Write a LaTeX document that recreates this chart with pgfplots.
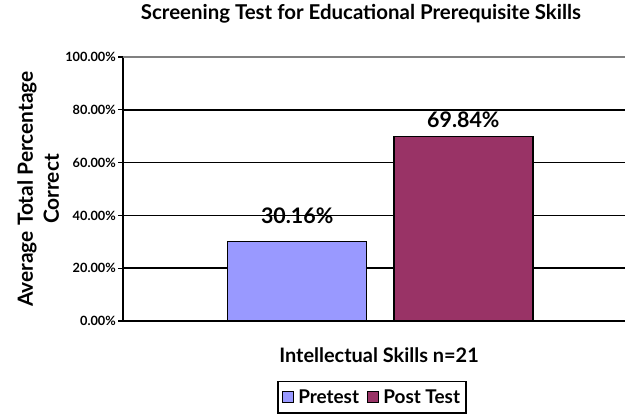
\documentclass[border=0pt]{standalone}
\usepackage{fontspec}
\setmainfont{Lato}
\usepackage{pgfplots}
\pgfplotsset{compat=1.18}
\definecolor{pre}{HTML}{9999FF}
\definecolor{post}{HTML}{993366}
\definecolor{gridgray}{HTML}{808080}
\begin{document}
\begin{tikzpicture}[x=1bp,y=1bp]
\useasboundingbox (0,0) rectangle (625,413);
\begin{axis}[
  at={(123bp,92bp)}, anchor=south west,
  scale only axis, width=502bp, height=264bp,
  xmin=0, xmax=1, ymin=0, ymax=100,
  axis x line*=bottom, axis y line*=left,
  axis line style={black, line width=1.5bp, -},
  xtick=\empty,
  ytick={0,20,40,60,80}, extra y ticks={100},
  extra y tick style={grid style={gridgray, line width=1.5bp}},
  ymajorgrids, grid style={black, line width=1.5bp},
  tick align=outside, major tick length=5bp, tick style={black, line width=1.3bp},
  /pgf/number format/assume math mode=true,
  yticklabel={\pgfmathprintnumber[fixed,fixed zerofill,precision=2]{\tick}\%},
  yticklabel style={font=\bfseries\fontsize{12.8}{14}\selectfont, inner sep=1bp, xshift=-1bp},
  ybar, bar width=0.277, bar shift=0pt,
  clip=false,
  title={Screening Test for Educational Prerequisite Skills},
  title style={font=\bfseries\fontsize{20.5}{24}\selectfont, at={(axis description cs:0.474,1.14)}, anchor=center},
  xlabel={Intellectual Skills n=21},
  xlabel style={font=\bfseries\fontsize{20}{24}\selectfont, at={(axis description cs:0.51,-0.129)}, anchor=center},
  ylabel={Average Total Percentage\\Correct},
  ylabel style={font=\bfseries\fontsize{21}{26}\selectfont, align=center, at={(axis description cs:-0.169,0.5)}, anchor=center},
  legend columns=2,
  legend style={at={(axis description cs:0.496,-0.227)}, anchor=north, draw=black, line width=1.5bp,
    font=\bfseries\fontsize{19}{22}\selectfont, inner xsep=4bp, inner ysep=6bp,
    /tikz/every odd column/.append style={column sep=2bp},
    /tikz/every even column/.append style={column sep=6bp}},
  legend image code/.code={\draw[#1, draw=black, line width=1.3bp] (0bp,-5.5bp) rectangle (11bp,5.5bp);},
  nodes near coords={\pgfmathprintnumber[fixed,fixed zerofill,precision=2]{\pgfplotspointmeta}\%},
  every node near coord/.append style={font=\bfseries\fontsize{21.5}{25}\selectfont, anchor=base, black},
]
\addplot[fill=pre, draw=black, line width=1.5bp, every node near coord/.append style={yshift=18bp}] coordinates {(0.347,30.16)};
\addplot[fill=post, draw=black, line width=1.5bp, every node near coord/.append style={yshift=8.7bp}] coordinates {(0.678,69.84)};
\legend{Pretest, Post Test}
\end{axis}
\end{tikzpicture}
\end{document}
